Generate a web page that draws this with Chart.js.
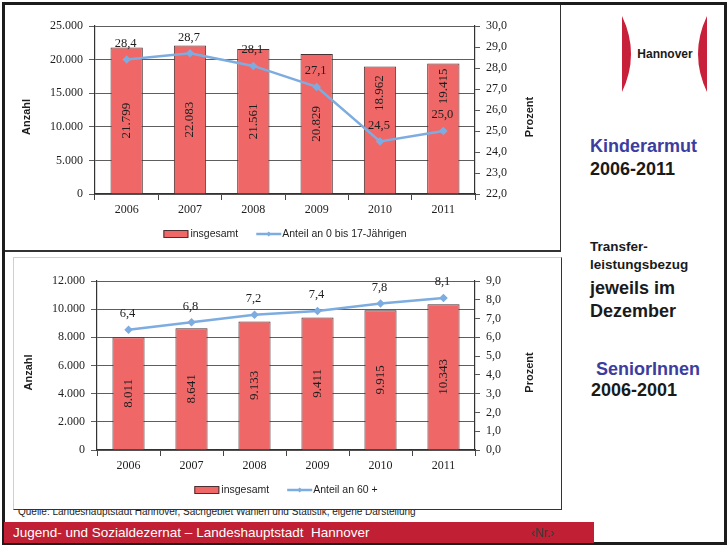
<!DOCTYPE html>
<html lang="de">
<head>
<meta charset="utf-8">
<script src="https://cdn.jsdelivr.net/npm/chart.js@4/dist/chart.umd.min.js"></script>
<style>
  html, body { margin: 0; padding: 0; background: #fff; }
  body { width: 727px; height: 545px; position: relative; overflow: hidden;
         font-family: "Liberation Sans", Arial, sans-serif; }
  .frame { position: absolute; left: 2px; top: 2px; width: 719px; height: 537px;
           border: 3px solid #1c1c1c; }
  .box { position: absolute; background: #fff; z-index: 2; }
  #box1 { left: 5px; top: 5px; width: 555px; height: 245px;
          border-right: 1.5px solid #333; border-bottom: 2px solid #333; }
  #box2 { left: 13px; top: 257px; width: 547px; height: 251px;
          border-left: 1px solid #cfcfcf; border-top: 1px solid #cfcfcf;
          border-right: 1.5px solid #333; border-bottom: 1.5px solid #333; }
  .box canvas { position: absolute; left: 0; top: 0; }
  .quelle { position: absolute; left: 18px; top: 506px; font-size: 10px; line-height: 12px;
            color: #222; white-space: nowrap; z-index: 1; }
  .footer { position: absolute; left: 4px; top: 522px; width: 590px; height: 21px;
            background: #c11f33; z-index: 3; }
  .footer .t { position: absolute; left: 9px; top: 2px; font-size: 13.5px; line-height: 17px;
               color: #fff; white-space: nowrap; }
  .footer .nr { position: absolute; left: 527px; top: 3px; font-size: 12px; line-height: 16px;
                color: #3a3a3a; }
  .side { position: absolute; left: 590px; font-weight: bold; white-space: nowrap; color: #1a1a1a; }
  .big { font-size: 18px; line-height: 22px; }
  .small { font-size: 13.5px; line-height: 18px; }
  .blue { color: #3b3d9f; }
  .logo { position: absolute; left: 615px; top: 10px; }
</style>
</head>
<body>
<div class="frame"></div>

<div class="box" id="box1"><canvas id="c1" width="555" height="245"></canvas></div>
<div class="box" id="box2"><canvas id="c2" width="547" height="251"></canvas></div>
<div class="quelle">Quelle: Landeshauptstadt Hannover, Sachgebiet Wahlen und Statistik, eigene Darstellung</div>

<div class="footer">
  <div class="t">Jugend- und Sozialdezernat – Landeshauptstadt&nbsp; Hannover</div>
  <div class="nr">‹Nr.›</div>
</div>

<svg class="logo" width="100" height="90" viewBox="615 10 100 90">
  <path d="M622,16 Q640,54 622,92 Z" fill="#c8203a"/>
  <path d="M707,16 Q689,54 707,92 Z" fill="#c8203a"/>
  <text x="665" y="57.5" text-anchor="middle" font-family="Liberation Sans, Arial, sans-serif"
        font-weight="bold" font-size="12" fill="#1a1a1a">Hannover</text>
</svg>

<div class="side big blue" style="top:135px">Kinderarmut</div>
<div class="side big" style="top:158px">2006-2011</div>
<div class="side small" style="top:238px">Transfer-</div>
<div class="side small" style="top:256px">leistungsbezug</div>
<div class="side big" style="top:277px">jeweils im</div>
<div class="side big" style="top:300px">Dezember</div>
<div class="side big blue" style="top:358px; left:596px">SeniorInnen</div>
<div class="side big" style="top:379px; left:591px">2006-2001</div>

<script>
"use strict";

// Werte
const years = ["2006", "2007", "2008", "2009", "2010", "2011"];
const kinderAnzahl = [21799, 22083, 21561, 20829, 18962, 19415];
const kinderAnteil = [28.4, 28.7, 28.1, 27.1, 24.5, 25.0];
const seniorenAnzahl = [8011, 8641, 9133, 9411, 9915, 10343];
const seniorenAnteil = [6.4, 6.8, 7.2, 7.4, 7.8, 8.1];

const RED = "#ef6767";
const RED_EDGE = "#4a3030";
const BLUE = "#7dade0";
const INK = "#1e1e1e";
const SERIF = '"Liberation Serif", "DejaVu Serif", serif';
const SANS = '"Liberation Sans", Arial, sans-serif';

const deInt = new Intl.NumberFormat("de-DE");
const deDec = new Intl.NumberFormat("de-DE", { minimumFractionDigits: 1, maximumFractionDigits: 1 });

// Datenbeschriftungen: Balkenwerte senkrecht in der Säule, Anteile über der Linie
const valueLabels = {
  id: "valueLabels",
  afterDatasetsDraw(chart) {
    const { ctx } = chart;
    const lineMeta = chart.getDatasetMeta(0);
    const barMeta = chart.getDatasetMeta(1);
    const bars = chart.data.datasets[1].data;
    const line = chart.data.datasets[0].data;
    ctx.save();
    ctx.fillStyle = INK;
    ctx.textAlign = "center";
    ctx.textBaseline = "middle";

    barMeta.data.forEach((el, i) => {
      const p = lineMeta.data[i];
      let cy = (el.y + el.base) / 2;
      // liegt die Linie im unteren Teil der Säule, rückt die Zahl nach oben
      if (p.y > cy - 25) cy = (el.y + p.y - 22) / 2;
      ctx.save();
      ctx.translate(el.x, cy);
      ctx.rotate(-Math.PI / 2);
      ctx.font = "13px " + SERIF;
      ctx.fillText(deInt.format(bars[i]), 0, 0);
      ctx.restore();
    });

    ctx.font = "12.5px " + SERIF;
    lineMeta.data.forEach((p, i) => {
      ctx.fillText(deDec.format(line[i]), p.x - 1, p.y - 16);
    });
    ctx.restore();
  },
};

// Achsentitel (beide von unten nach oben gelesen)
const axisTitles = {
  id: "axisTitles",
  afterDraw(chart) {
    const { ctx, chartArea: a } = chart;
    const cy = (a.top + a.bottom) / 2 + 7;
    ctx.save();
    ctx.fillStyle = INK;
    ctx.font = "bold 11px " + SANS;
    ctx.textAlign = "center";
    ctx.textBaseline = "middle";
    for (const [x, text] of [[a.left - 68, "Anzahl"], [a.right + 55, "Prozent"]]) {
      ctx.save();
      ctx.translate(x, cy);
      ctx.rotate(-Math.PI / 2);
      ctx.fillText(text, 0, 0);
      ctx.restore();
    }
    ctx.restore();
  },
};

// Legende unter der Grafik, mittig zur Zeichenfläche
const slideLegend = {
  id: "slideLegend",
  afterDraw(chart) {
    const { ctx, chartArea: a } = chart;
    const y = a.bottom + 40;
    const t1 = chart.data.datasets[1].label;
    const t2 = chart.data.datasets[0].label;
    ctx.save();
    ctx.font = "10.5px " + SANS;
    const w1 = ctx.measureText(t1).width;
    const w2 = ctx.measureText(t2).width;
    const total = 25 + 2 + w1 + 18 + 25 + 1 + w2;
    let x = (a.left + a.right) / 2 - total / 2;

    ctx.fillStyle = RED;
    ctx.fillRect(x, y - 3.5, 25, 7);
    ctx.strokeStyle = RED_EDGE;
    ctx.lineWidth = 1;
    ctx.strokeRect(x + 0.5, y - 3.5, 24, 7);
    x += 27;
    ctx.fillStyle = INK;
    ctx.textBaseline = "middle";
    ctx.fillText(t1, x, y + 0.5);
    x += w1 + 18;

    ctx.strokeStyle = BLUE;
    ctx.lineWidth = 2.5;
    ctx.beginPath();
    ctx.moveTo(x, y);
    ctx.lineTo(x + 25, y);
    ctx.stroke();
    ctx.fillStyle = BLUE;
    ctx.beginPath();
    ctx.moveTo(x + 12.5, y - 2.5);
    ctx.lineTo(x + 15, y);
    ctx.lineTo(x + 12.5, y + 2.5);
    ctx.lineTo(x + 10, y);
    ctx.fill();
    x += 26;
    ctx.fillStyle = INK;
    ctx.fillText(t2, x, y + 0.5);
    ctx.restore();
  },
};

function makeChart(canvas, cfg) {
  const W = canvas.width, H = canvas.height;
  const area = cfg.area;
  const tickFont = { family: SERIF, size: 12 };
  return new Chart(canvas, {
    data: {
      labels: years,
      datasets: [
        {
          type: "line",
          label: cfg.lineLabel,
          data: cfg.line,
          yAxisID: "y1",
          borderColor: BLUE,
          backgroundColor: BLUE,
          borderWidth: 2.5,
          pointStyle: "rectRot",
          pointRadius: 2.5,
          tension: 0,
        },
        {
          type: "bar",
          label: "insgesamt",
          data: cfg.bars,
          yAxisID: "y",
          backgroundColor: RED,
          borderColor: RED_EDGE,
          borderWidth: 1,
          barPercentage: 0.51,
          categoryPercentage: 1,
        },
      ],
    },
    options: {
      responsive: false,
      animation: false,
      devicePixelRatio: 1,
      layout: { padding: { top: area.top, left: 0, right: 0, bottom: 0 } },
      plugins: { legend: { display: false }, tooltip: { enabled: false } },
      scales: {
        x: {
          offset: true,
          grid: { offset: true, drawOnChartArea: false, tickLength: 6, color: "#444" },
          border: { color: "#333", width: 1.2 },
          ticks: { font: tickFont, color: INK, padding: 3, maxRotation: 0 },
          afterFit(s) { s.height = H - area.bottom; },
        },
        y: {
          position: "left",
          min: 0,
          max: cfg.leftMax,
          grid: { color: "#5e5e5e", tickLength: 6 },
          border: { color: "#333", width: 1.2 },
          ticks: { stepSize: cfg.leftStep, font: tickFont, color: INK, padding: 6,
                   callback: (v) => deInt.format(v) },
          afterFit(s) { s.width = area.left; },
        },
        y1: {
          position: "right",
          min: cfg.rightMin,
          max: cfg.rightMax,
          grid: { drawOnChartArea: false, tickLength: 5, color: "#555" },
          border: { color: "#333", width: 1.2 },
          ticks: { stepSize: 1, font: tickFont, color: INK, padding: 6,
                   callback: (v) => deDec.format(v) },
          afterFit(s) { s.width = W - area.right; },
        },
      },
    },
    plugins: [valueLabels, axisTitles, slideLegend],
  });
}

makeChart(document.getElementById("c1"), {
  bars: kinderAnzahl,
  line: kinderAnteil,
  lineLabel: "Anteil an 0 bis 17-Jährigen",
  leftMax: 25000, leftStep: 5000,
  rightMin: 22, rightMax: 30,
  area: { left: 90, right: 470, top: 21, bottom: 189 },
});

makeChart(document.getElementById("c2"), {
  bars: seniorenAnzahl,
  line: seniorenAnteil,
  lineLabel: "Anteil an 60 +",
  leftMax: 12000, leftStep: 2000,
  rightMin: 0, rightMax: 9,
  area: { left: 83, right: 461, top: 23, bottom: 192 },
});
</script>
</body>
</html>
